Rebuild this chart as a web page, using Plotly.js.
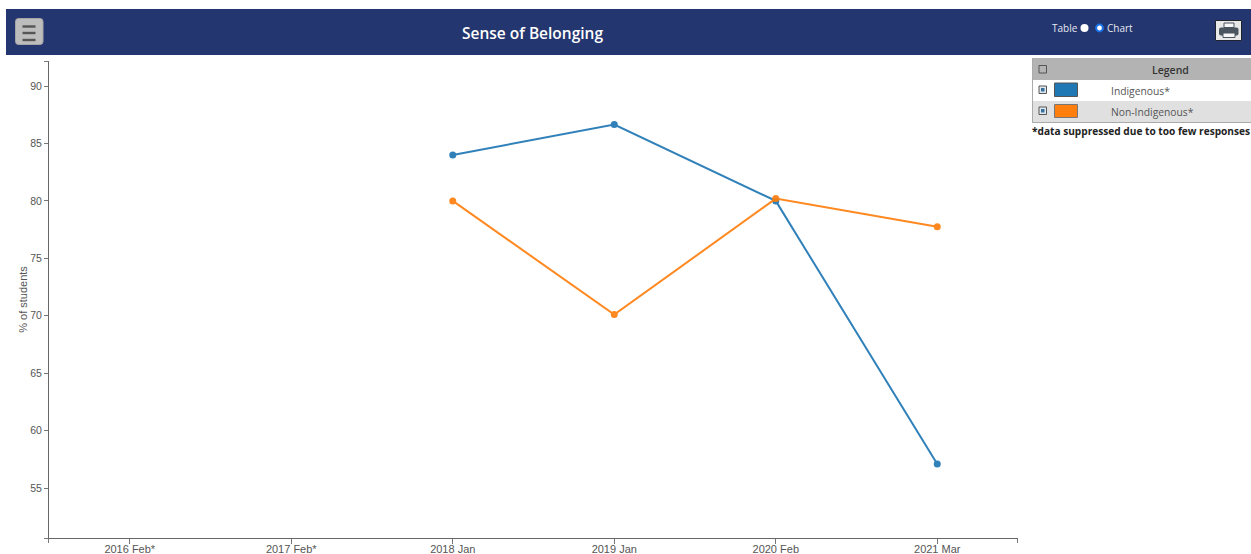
<!DOCTYPE html>
<html><head><meta charset="utf-8">
<script src="https://cdn.plot.ly/plotly-3.0.1.min.js"></script>
<style>html,body{margin:0;padding:0;background:#fff;overflow:hidden}#c{width:1251px;height:554px}</style>
</head><body><div id="c"></div>
<script>
const categories=["2016 Feb*","2017 Feb*","2018 Jan","2019 Jan","2020 Feb","2021 Mar"];
const indigenous=[null,null,84,86.65,80,57.1];
const nonIndigenous=[null,null,80,70.1,80.2,77.75];
const yTicks=[55,60,65,70,75,80,85,90];
const seriesNames=["Indigenous","Non-Indigenous"];
const colors=["#1f77b4","#ff7f0e"];
const legendLabels=["Indigenous*","Non-Indigenous*"];

const W=1251,H=554,L=49,R=1018,T=61,B=538;
const px=x=>(x-L)/(R-L), py=y=>(B-y)/(B-T);
const rect=(x0,y0,x1,y1,fill,line,lw)=>({type:'rect',xref:'paper',yref:'paper',layer:'above',x0:px(x0),x1:px(x1),y0:py(y1),y1:py(y0),fillcolor:fill,line:{color:line||fill,width:lw||0}});
const round=(x0,y0,x1,y1,r,fill,line,lw)=>{
  const P=(x,y)=>px(x)+','+py(y);
  return {type:'path',xref:'paper',yref:'paper',layer:'above',fillcolor:fill,line:{color:line||fill,width:lw||0},
   path:'M'+P(x0+r,y0)+' L'+P(x1-r,y0)+' Q'+P(x1,y0)+' '+P(x1,y0+r)+' L'+P(x1,y1-r)+' Q'+P(x1,y1)+' '+P(x1-r,y1)+' L'+P(x0+r,y1)+' Q'+P(x0,y1)+' '+P(x0,y1-r)+' L'+P(x0,y0+r)+' Q'+P(x0,y0)+' '+P(x0+r,y0)+' Z'};
};
const seg=(x0,y0,x1,y1,c,w)=>({type:'line',xref:'paper',yref:'paper',layer:'above',x0:px(x0),x1:px(x1),y0:py(y0),y1:py(y1),line:{color:c,width:w}});
const circ=(cx,cy,r,fill,line,lw)=>({type:'circle',xref:'paper',yref:'paper',layer:'above',x0:px(cx-r),x1:px(cx+r),y0:py(cy+r),y1:py(cy-r),fillcolor:fill,line:{color:line||fill,width:lw||0}});
const txt=(x,y,t,size,color,anchor,weight)=>({xref:'paper',yref:'paper',x:px(x),y:py(y),text:t,showarrow:false,xanchor:anchor||'left',yanchor:'middle',font:{family:'"Open Sans","Noto Sans",sans-serif',size:size,color:color,weight:weight||400},borderpad:0,borderwidth:0});

const shapes=[
 rect(6,9,1251,55,'#24366f'),
 // menu button
 round(15.5,18.5,43,44.5,3,'#bdbdbd','#a5a5a5',1),
 seg(22.5,26.5,35.5,26.5,'#555',2.4), seg(22.5,33,35.5,33,'#555',2.4), seg(22.5,40,35.5,40,'#555',2.4),
 // radios
 circ(1084.5,28,4,'#ffffff'), circ(1099.5,28,3.4,'#ffffff','#1a73e8',2),
 // print button
 rect(1215.5,20.5,1241.5,40.5,'#e8e8e8','#20242c',1),
 rect(1224,23,1234,27.5,'#f7f7f7','#4a5560',1),
 round(1219,27.5,1238.5,35.5,2,'#4a5560'),
 rect(1223,33,1235,37.5,'#f7f7f7','#4a5560',1),
 // legend table
 rect(1032,58,1251,80,'#b3b3b3'),
 rect(1032,80,1251,101,'#ffffff'),
 rect(1032,101,1251,122,'#e0e0e0'),
 seg(1032.5,58,1032.5,122,'#aaaaaa',1), seg(1032,122.5,1251,122.5,'#aaaaaa',1),
 rect(1039,65.5,1046.5,73,'rgba(0,0,0,0)','#555',1),
 rect(1039,86,1046.5,93.5,'#dfe8ee','#555',1), rect(1041,88,1044.5,91.5,'#35709f'),
 rect(1039,107,1046.5,114.5,'#dfe8ee','#555',1), rect(1041,109,1044.5,112.5,'#35709f'),
 rect(1054.5,83,1077.5,96.5,colors[0],'#555',1),
 rect(1054.5,104.5,1077.5,117.5,colors[1],'#777',1),
 // axis end ticks
 seg(44,61.5,48.5,61.5,'#777',1), seg(44,538.5,48.5,538.5,'#777',1),
 seg(48.5,538.5,48.5,543,'#777',1), seg(1017.5,538.5,1017.5,543,'#777',1)
];
const annotations=[
 txt(532,33,'Sense of Belonging',15.5,'#ffffff','center',600),
 txt(1052,28.5,'Table',10,'#e6e9f2'),
 txt(1107,28.5,'Chart',10,'#e6e9f2'),
 txt(1170,69.5,'Legend',10.5,'#333','center',600),
 txt(1110.5,90.5,legendLabels[0],10.3,'#555'),
 txt(1110.5,111.5,legendLabels[1],10.3,'#555'),
 txt(1032,131,'*data suppressed due to too few responses',10.15,'#222','left',700)
];
const mk=(name,ys,c)=>({type:'scatter',mode:'lines+markers',name:name,x:categories,y:ys,connectgaps:false,
  line:{color:c,width:2},marker:{color:c,size:7},opacity:0.92,hoverinfo:'x+y'});
Plotly.newPlot('c',[mk(seriesNames[0],indigenous,colors[0]),mk(seriesNames[1],nonIndigenous,colors[1])],{
 width:W,height:H,showlegend:false,paper_bgcolor:'#fff',plot_bgcolor:'#fff',
 margin:{l:L,r:W-R,t:T,b:H-B,pad:0},
 font:{family:'"Liberation Sans",Arial,sans-serif',size:12,color:'#555'},
 xaxis:{type:'category',categoryorder:'array',categoryarray:categories,range:[-0.5,5.5],showgrid:false,zeroline:false,
   showline:true,linecolor:'#666',linewidth:1,ticks:'outside',ticklen:5,tickcolor:'#777',tickwidth:1,
   tickfont:{size:11,color:'#555'},ticklabelstandoff:-4,fixedrange:true},
 yaxis:{range:[50.65,92.18],tickmode:'array',tickvals:yTicks,ticktext:yTicks.map(String),showgrid:false,zeroline:false,
   showline:true,linecolor:'#666',linewidth:1,ticks:'outside',ticklen:4,tickcolor:'#777',tickwidth:1,
   tickfont:{size:10.5,color:'#555'},title:{text:'% of students',font:{size:11,color:'#555'},standoff:0},fixedrange:true},
 shapes:shapes,annotations:annotations
},{displayModeBar:false,staticPlot:true});
</script></body></html>
